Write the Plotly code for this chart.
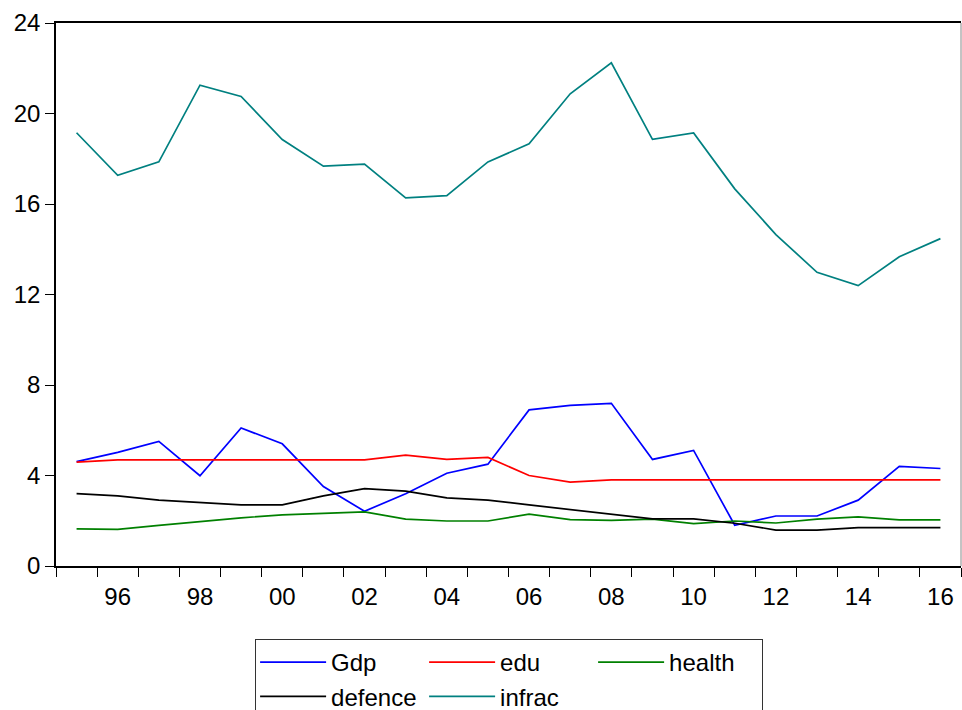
import plotly.graph_objects as go

years = list(range(1995, 2017))
gdp = [4.61, 5.02, 5.51, 3.99, 6.10, 5.40, 3.51, 2.42, 3.19, 4.10, 4.50,
       6.90, 7.10, 7.19, 4.71, 5.11, 1.80, 2.21, 2.21, 2.91, 4.40, 4.31]
edu = [4.59, 4.69, 4.69, 4.69, 4.69, 4.69, 4.69, 4.69, 4.90, 4.71, 4.80,
       4.00, 3.71, 3.81, 3.81, 3.81, 3.81, 3.81, 3.81, 3.81, 3.81, 3.81]
health = [1.64, 1.62, 1.80, 1.98, 2.13, 2.26, 2.33, 2.39, 2.07, 1.99, 1.99,
          2.29, 2.05, 2.02, 2.07, 1.87, 1.99, 1.90, 2.07, 2.17, 2.04, 2.04]
defence = [3.20, 3.10, 2.91, 2.80, 2.70, 2.70, 3.10, 3.42, 3.31, 3.01, 2.91,
           2.70, 2.49, 2.29, 2.08, 2.08, 1.89, 1.59, 1.59, 1.70, 1.70, 1.70]
infrac = [19.15, 17.27, 17.86, 21.25, 20.75, 18.85, 17.67, 17.76, 16.27, 16.37, 17.86,
          18.66, 20.87, 22.24, 18.86, 19.14, 16.67, 14.65, 12.98, 12.39, 13.67, 14.47]

x_label_years = [1996, 1998, 2000, 2002, 2004, 2006, 2008, 2010, 2012, 2014, 2016]
x_label_text = ["96", "98", "00", "02", "04", "06", "08", "10", "12", "14", "16"]
y_ticks = [0, 4, 8, 12, 16, 20, 24]

# (name, values, colour, legend column)
series = [
    ("Gdp", gdp, "#0000ff", "c1"),
    ("edu", edu, "#ff0000", "c2"),
    ("health", health, "#008000", "c3"),
    ("defence", defence, "#000000", "c1"),
    ("infrac", infrac, "#008080", "c2"),
]

fig = go.Figure()
for name, vals, color, grp in series:
    fig.add_trace(go.Scatter(x=years, y=vals, mode="lines", name=name,
                             legendgroup=grp,
                             line=dict(color=color, width=1.7)))

font_family = "Liberation Sans, Arial, sans-serif"
W, H = 962, 710

fig.update_layout(
    width=W, height=H,
    margin=dict(l=56, r=1, t=23, b=144, autoexpand=False),
    paper_bgcolor="white", plot_bgcolor="white",
    font=dict(family=font_family, size=24, color="black"),
    showlegend=True,
    legend=dict(
        orientation="h",
        traceorder="grouped", tracegroupgap=0,
        x=0.22, xanchor="left",
        yref="container", y=(H - 639) / H, yanchor="top",
        bordercolor="#333333", borderwidth=1,
        font=dict(family=font_family, size=24, color="black"),
        entrywidth=88, itemwidth=66,
    ),
    xaxis=dict(
        range=[1994.5, 2016.5],
        tickmode="array", tickvals=x_label_years, ticktext=x_label_text,
        ticks="outside", ticklen=8, tickcolor="rgba(0,0,0,0)",
        showgrid=False, zeroline=False,
        showline=True, linecolor="black", linewidth=1.5, mirror=True,
        tickfont=dict(size=24),
        minor=dict(ticks="outside", tick0=1994.5, dtick=1, ticklen=9,
                   tickcolor="black", tickwidth=1, showgrid=False),
    ),
    yaxis=dict(
        range=[0, 24],
        tickmode="array", tickvals=y_ticks,
        ticks="outside", ticklen=9, tickcolor="black", tickwidth=1,
        showgrid=False, zeroline=False,
        showline=True, linecolor="black", linewidth=1.5,
        tickfont=dict(size=24),
    ),
    shapes=[dict(type="line", xref="paper", yref="paper", x0=1, x1=1, y0=0, y1=1,
                 line=dict(color="#888888", width=1))],
)

# remove the browser's default 8px page margin so the figure fills the window exactly
fig.write_html("out.html", config={"displayModeBar": False},
               post_script="document.body.style.margin='0';")
